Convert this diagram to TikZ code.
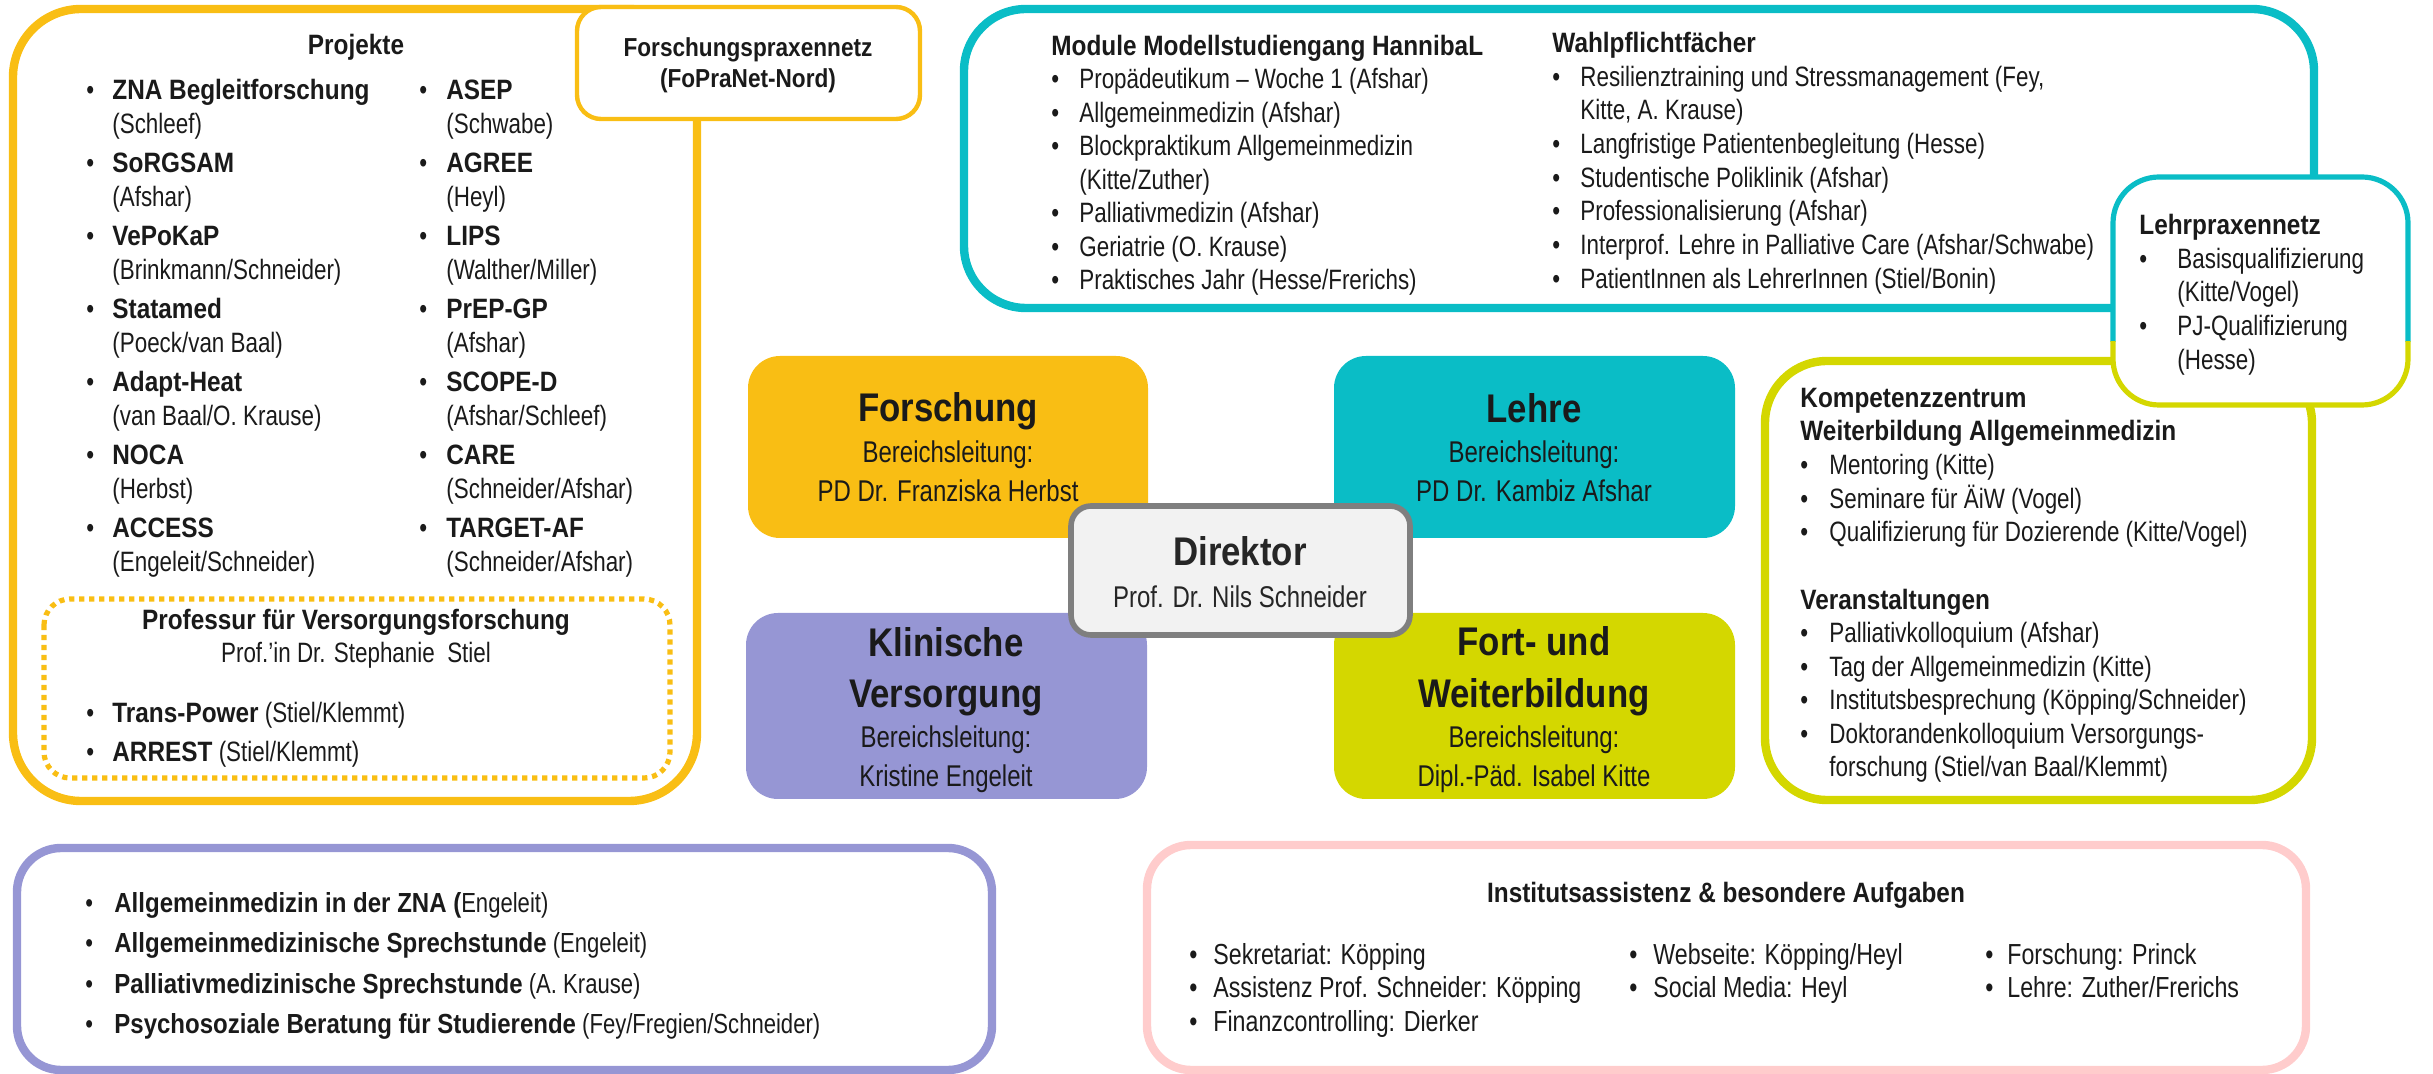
\documentclass[tikz,border=0pt]{standalone}
\usepackage{fontspec}
\setmainfont{Liberation Sans}[UprightFeatures={FakeStretch=0.8},BoldFeatures={FakeStretch=0.87}]
\definecolor{cYel}{HTML}{F9BE14}
\definecolor{cTeal}{HTML}{0ABDC6}
\definecolor{cLav}{HTML}{9696D4}
\definecolor{cLime}{HTML}{D4D700}
\definecolor{cPink}{HTML}{FFCCCC}
\definecolor{cDirF}{HTML}{F2F2F2}
\definecolor{cDirB}{HTML}{7F7F7F}
\definecolor{cTxt}{HTML}{1A1A1A}
\newcommand\tp{\rule{0pt}{12pt}}
\newcommand\mybul[1]{\makebox[#1][l]{\textbullet}}
\newcommand\myind[1]{\hspace*{#1}}
\begin{document}
\begin{tikzpicture}[x=0.5pt,y=-0.5pt,
  frame/.style={line width=4.2pt, rounded corners=#1},
  thinframe/.style={line width=2.2pt, rounded corners=#1, fill=white},
  lst/.style={inner sep=0pt, anchor=north west, align=left, text=cTxt},
  ctr/.style={inner sep=0pt, anchor=base, text=cTxt},
  cbox/.style={rounded corners=16pt, inner sep=0pt},
  ttl/.style={ctr, font=\fontsize{20}{24}\selectfont\bfseries},
  sub/.style={ctr, font=\fontsize{15}{18}\selectfont},
  hd/.style={ctr, font=\fontsize{14}{17}\selectfont\bfseries}]
\useasboundingbox (0,0) rectangle (2433,1074);

% ---------- Forschung container ----------
\draw[frame=34pt, draw=cYel] (13,9) rectangle (697,801);
\draw[thinframe=12pt, draw=cYel] (577,7) rectangle (920,119);
\node[ctr, font=\fontsize{13}{16}\selectfont\bfseries] (fpn1) at (748,57) {Forschungspraxennetz};
\node[ctr, font=\fontsize{13}{16}\selectfont\bfseries] (fpn2) at (748,88) {(FoPraNet-Nord)};

\node[hd] (projekte) at (356,55) {Projekte};
\node[lst, font=\fontsize{14}{17}\selectfont] (projL) at (86,75) {%
\tp\mybul{13pt}\textbf{ZNA Begleitforschung}\\
\myind{13pt}(Schleef)\\[2.5pt]
\mybul{13pt}\textbf{SoRGSAM}\\
\myind{13pt}(Afshar)\\[2.5pt]
\mybul{13pt}\textbf{VePoKaP}\\
\myind{13pt}(Brinkmann/Schneider)\\[2.5pt]
\mybul{13pt}\textbf{Statamed}\\
\myind{13pt}(Poeck/van Baal)\\[2.5pt]
\mybul{13pt}\textbf{Adapt-Heat}\\
\myind{13pt}(van Baal/O. Krause)\\[2.5pt]
\mybul{13pt}\textbf{NOCA}\\
\myind{13pt}(Herbst)\\[2.5pt]
\mybul{13pt}\textbf{ACCESS}\\
\myind{13pt}(Engeleit/Schneider)};
\node[lst, font=\fontsize{14}{17}\selectfont] (projR) at (419,75) {%
\tp\mybul{13.5pt}\textbf{ASEP}\\
\myind{13.5pt}(Schwabe)\\[2.5pt]
\mybul{13.5pt}\textbf{AGREE}\\
\myind{13.5pt}(Heyl)\\[2.5pt]
\mybul{13.5pt}\textbf{LIPS}\\
\myind{13.5pt}(Walther/Miller)\\[2.5pt]
\mybul{13.5pt}\textbf{PrEP-GP}\\
\myind{13.5pt}(Afshar)\\[2.5pt]
\mybul{13.5pt}\textbf{SCOPE-D}\\
\myind{13.5pt}(Afshar/Schleef)\\[2.5pt]
\mybul{13.5pt}\textbf{CARE}\\
\myind{13.5pt}(Schneider/Afshar)\\[2.5pt]
\mybul{13.5pt}\textbf{TARGET-AF}\\
\myind{13.5pt}(Schneider/Afshar)};

\draw[cYel, line width=2.6pt, dash pattern=on 2.6pt off 2.4pt, rounded corners=13pt] (44,599) rectangle (670,778);
\node[hd] (prof) at (356,630) {Professur für Versorgungsforschung};
\node[ctr, font=\fontsize{14}{17}\selectfont] (profname) at (356,663) {Prof.’in Dr. Stephanie\ \ Stiel};
\node[lst, font=\fontsize{14}{19.5}\selectfont] (profL) at (86,698) {%
\tp\mybul{13pt}\textbf{Trans-Power} (Stiel/Klemmt)\\
\mybul{13pt}\textbf{ARREST} (Stiel/Klemmt)};

% ---------- Lehre container ----------
\draw[frame=31pt, draw=cTeal] (964,9) rectangle (2314,308);
\node[lst, font=\fontsize{14}{16.75}\selectfont] (modL) at (1051,31) {%
\tp\textbf{Module Modellstudiengang HannibaL}\\
\mybul{14pt}Propädeutikum – Woche 1 (Afshar)\\
\mybul{14pt}Allgemeinmedizin (Afshar)\\
\mybul{14pt}Blockpraktikum Allgemeinmedizin\\
\myind{14pt}(Kitte/Zuther)\\
\mybul{14pt}Palliativmedizin (Afshar)\\
\mybul{14pt}Geriatrie (O. Krause)\\
\mybul{14pt}Praktisches Jahr (Hesse/Frerichs)};
\node[lst, font=\fontsize{14}{16.85}\selectfont] (wpf) at (1552,28) {%
\tp\textbf{Wahlpflichtfächer}\\
\mybul{14pt}Resilienztraining und Stressmanagement (Fey,\\
\myind{14pt}Kitte, A. Krause)\\
\mybul{14pt}Langfristige Patientenbegleitung (Hesse)\\
\mybul{14pt}Studentische Poliklinik (Afshar)\\
\mybul{14pt}Professionalisierung (Afshar)\\
\mybul{14pt}Interprof. Lehre in Palliative Care (Afshar/Schwabe)\\
\mybul{14pt}PatientInnen als LehrerInnen (Stiel/Bonin)};

% ---------- Fort- und Weiterbildung container ----------
\draw[frame=31pt, draw=cLime] (1765,361) rectangle (2312,800);
\node[lst, font=\fontsize{14}{16.8}\selectfont] (kompetenz) at (1800,383) {%
\tp\textbf{Kompetenzzentrum}\\
\textbf{Weiterbildung Allgemeinmedizin}\\
\mybul{14.5pt}Mentoring (Kitte)\\
\mybul{14.5pt}Seminare für ÄiW (Vogel)\\
\mybul{14.5pt}Qualifizierung für Dozierende (Kitte/Vogel)\\[16.8pt]
\textbf{Veranstaltungen}\\
\mybul{14.5pt}Palliativkolloquium (Afshar)\\
\mybul{14.5pt}Tag der Allgemeinmedizin (Kitte)\\
\mybul{14.5pt}Institutsbesprechung (Köpping/Schneider)\\
\mybul{14.5pt}Doktorandenkolloquium Versorgungs-\\
\myind{14.5pt}forschung (Stiel/van Baal/Klemmt)};

% Lehrpraxennetz (two-coloured border)
\fill[white, rounded corners=23pt] (2113,177) rectangle (2408,405);
\begin{scope}
  \clip (2090,150) rectangle (2430,342);
  \draw[line width=2.6pt, cTeal, rounded corners=23pt] (2113,177) rectangle (2408,405);
\end{scope}
\begin{scope}
  \clip (2090,342) rectangle (2430,430);
  \draw[line width=2.6pt, cLime, rounded corners=23pt] (2113,177) rectangle (2408,405);
\end{scope}
\node[lst, font=\fontsize{14}{16.85}\selectfont] (lpn) at (2139,210) {%
\tp\textbf{Lehrpraxennetz}\\
\mybul{19pt}Basisqualifizierung\\
\myind{19pt}(Kitte/Vogel)\\
\mybul{19pt}PJ-Qualifizierung\\
\myind{19pt}(Hesse)};

% ---------- Centre boxes ----------
\node[cbox, fill=cYel, minimum width=200pt, minimum height=91pt] (forschung) at (948,447) {};
\node[cbox, fill=cTeal, minimum width=200.5pt, minimum height=91pt] (lehre) at (1534.5,447) {};
\node[cbox, fill=cLav, minimum width=200.5pt, minimum height=93pt] (klinik) at (946.5,706) {};
\node[cbox, fill=cLime, minimum width=200.5pt, minimum height=93pt] (fort) at (1534.5,706) {};

\node[ttl] (forT) at (948,422) {Forschung};
\node[sub] (forB) at (948,463) {Bereichsleitung:};
\node[sub] (forN) at (948,502) {PD Dr. Franziska Herbst};
\node[ttl] (lehT) at (1534,423) {Lehre};
\node[sub] (lehB) at (1534,463) {Bereichsleitung:};
\node[sub] (lehN) at (1534,502) {PD Dr. Kambiz Afshar};
\node[ttl] (kliT1) at (946,657) {Klinische};
\node[ttl] (kliT2) at (946,708) {Versorgung};
\node[sub] (kliB) at (946,748) {Bereichsleitung:};
\node[sub] (kliN) at (946,787) {Kristine Engeleit};
\node[ttl] (forT1) at (1534,656) {Fort- und};
\node[ttl] (forT2) at (1534,708) {Weiterbildung};
\node[sub] (fwbB) at (1534,748) {Bereichsleitung:};
\node[sub] (fwbN) at (1534,787) {Dipl.-Päd. Isabel Kitte};

\node[draw=cDirB, fill=cDirF, line width=2.8pt, rounded corners=10pt, minimum width=169.5pt, minimum height=64.5pt, inner sep=0pt] (direktor) at (1240.5,570.5) {};
\node[ttl, text=black!85] (dirT) at (1240,566) {Direktor};
\node[sub, text=black!85] (dirN) at (1240,608) {Prof. Dr. Nils Schneider};

% ---------- Bottom boxes ----------
\draw[frame=22pt, draw=cLav] (17,848) rectangle (992,1070);
\node[lst, font=\fontsize{13.8}{20.2}\selectfont] (klinL) at (85,888) {%
\tp\mybul{14.5pt}\textbf{Allgemeinmedizin in der ZNA (}Engeleit)\\
\mybul{14.5pt}\textbf{Allgemeinmedizinische Sprechstunde} (Engeleit)\\
\mybul{14.5pt}\textbf{Palliativmedizinische Sprechstunde} (A. Krause)\\
\mybul{14.5pt}\textbf{Psychosoziale Beratung für Studierende} (Fey/Fregien/Schneider)};

\draw[frame=22pt, draw=cPink] (1147,845) rectangle (2306,1070);
\node[hd] (inst) at (1726,902) {Institutsassistenz \& besondere Aufgaben};
\node[lst, font=\fontsize{14.5}{16.75}\selectfont] (ia1) at (1189,940) {%
\tp\mybul{12pt}Sekretariat: Köpping\\
\mybul{12pt}Assistenz Prof. Schneider: Köpping\\
\mybul{12pt}Finanzcontrolling: Dierker};
\node[lst, font=\fontsize{14.5}{16.75}\selectfont] (ia2) at (1629,940) {%
\tp\mybul{12pt}Webseite: Köpping/Heyl\\
\mybul{12pt}Social Media: Heyl};
\node[lst, font=\fontsize{14.5}{16.75}\selectfont] (ia3) at (1985,940) {%
\tp\mybul{11pt}Forschung: Princk\\
\mybul{11pt}Lehre: Zuther/Frerichs};
\end{tikzpicture}
\end{document}
